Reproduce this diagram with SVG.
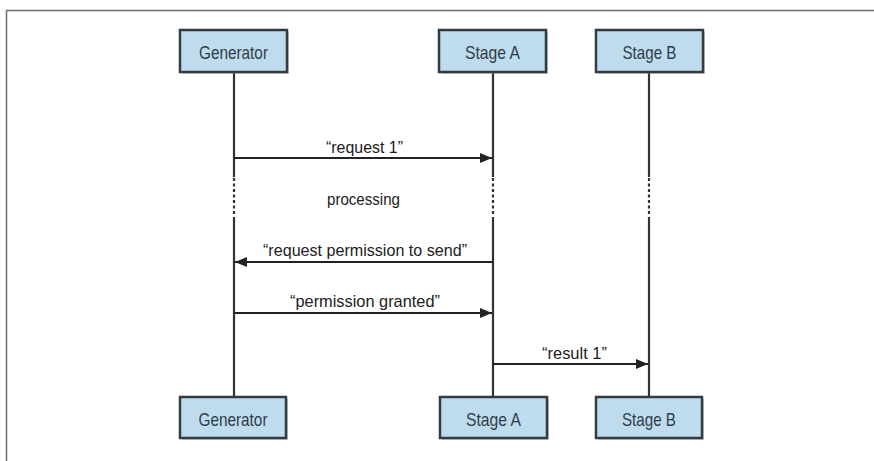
<svg xmlns="http://www.w3.org/2000/svg" width="874" height="461" viewBox="0 0 874 461">
<style>
.box{fill:#bfdcee;stroke:#333a40;stroke-width:2.5}
.shadow{fill:#9aa0a6;opacity:0.5}
.lbl{font-family:"Liberation Sans",Arial,sans-serif;font-size:19px;fill:#2f3d48;text-anchor:middle}
.msg{font-family:"Liberation Sans",Arial,sans-serif;font-size:17px;fill:#222;text-anchor:middle}
.life{stroke:#333;stroke-width:2.2;fill:none}
.dot{stroke:#333;stroke-width:2.2;fill:none;stroke-dasharray:3 2.5}
.arr{stroke:#222;stroke-width:2;fill:none}
</style>
<defs>
<marker id="ah" viewBox="0 0 12 10" refX="12" refY="5" markerWidth="12" markerHeight="10" markerUnits="userSpaceOnUse" orient="auto">
<path d="M0,0 L12,5 L0,10 Z" fill="#222"/>
</marker>
</defs>
<rect width="874" height="461" fill="#fff"/>
<path d="M6.5,461 V10.5 H874" fill="none" stroke="#6e6e6e" stroke-width="1.5"/>
<g id="lifelines">
<path class="life" d="M234,72 V177 M234,217 V397"/>
<path class="dot" d="M234,178 V216"/>
<path class="life" d="M493,72 V177 M493,217 V397"/>
<path class="dot" d="M493,178 V216"/>
<path class="life" d="M649,72 V177 M649,217 V397"/>
<path class="dot" d="M649,178 V216"/>
</g>
<g id="gen-top"><rect class="shadow" x="182" y="32" width="107" height="42"/><rect class="box" x="180" y="30" width="107" height="42"/><text class="lbl" x="233.5" y="58.5" textLength="69" lengthAdjust="spacingAndGlyphs">Generator</text></g>
<g id="a-top"><rect class="shadow" x="441" y="32" width="107" height="42"/><rect class="box" x="439" y="30" width="107" height="42"/><text class="lbl" x="492.5" y="58.5" textLength="55" lengthAdjust="spacingAndGlyphs">Stage A</text></g>
<g id="b-top"><rect class="shadow" x="598" y="32" width="107" height="42"/><rect class="box" x="596" y="30" width="107" height="42"/><text class="lbl" x="649.5" y="58.5" textLength="54" lengthAdjust="spacingAndGlyphs">Stage B</text></g>
<g id="gen-bottom"><rect class="shadow" x="182" y="399" width="106" height="41"/><rect class="box" x="180" y="397" width="106" height="41"/><text class="lbl" x="233" y="425.5" textLength="69" lengthAdjust="spacingAndGlyphs">Generator</text></g>
<g id="a-bottom"><rect class="shadow" x="442" y="399" width="107" height="41"/><rect class="box" x="440" y="397" width="107" height="41"/><text class="lbl" x="493.5" y="425.5" textLength="55" lengthAdjust="spacingAndGlyphs">Stage A</text></g>
<g id="b-bottom"><rect class="shadow" x="598" y="399" width="106" height="41"/><rect class="box" x="596" y="397" width="106" height="41"/><text class="lbl" x="649" y="425.5" textLength="54" lengthAdjust="spacingAndGlyphs">Stage B</text></g>
<g id="connectors">
<line class="arr" x1="234" y1="158" x2="492" y2="158" marker-end="url(#ah)"/>
<line class="arr" x1="493" y1="262" x2="235" y2="262" marker-end="url(#ah)"/>
<line class="arr" x1="234" y1="313" x2="492" y2="313" marker-end="url(#ah)"/>
<line class="arr" x1="493" y1="364" x2="648" y2="364" marker-end="url(#ah)"/>
</g>
<g id="labels">
<text class="msg" x="364.5" y="153" textLength="77" lengthAdjust="spacingAndGlyphs">“request 1”</text>
<text class="msg" x="363.5" y="205" textLength="73" lengthAdjust="spacingAndGlyphs">processing</text>
<text class="msg" x="365" y="256" textLength="204" lengthAdjust="spacingAndGlyphs">“request permission to send”</text>
<text class="msg" x="365" y="307" textLength="150" lengthAdjust="spacingAndGlyphs">“permission granted”</text>
<text class="msg" x="574.5" y="359" textLength="65" lengthAdjust="spacingAndGlyphs">“result 1”</text>
</g>
</svg>
